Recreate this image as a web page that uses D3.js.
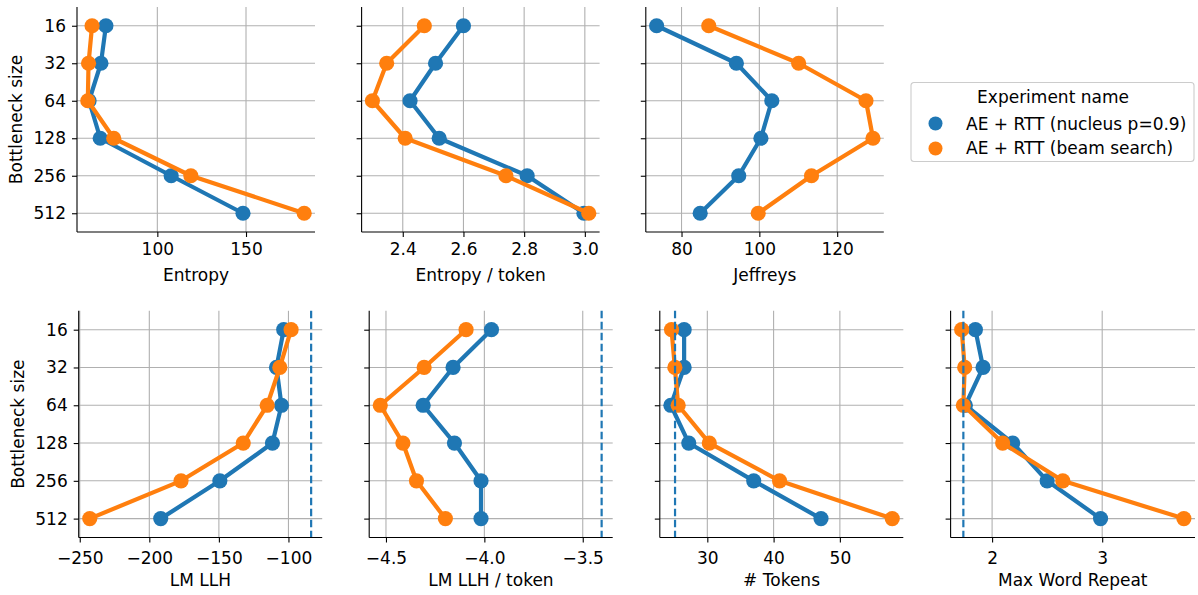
<!DOCTYPE html>
<html><head><meta charset="utf-8">
<script src="https://cdn.jsdelivr.net/npm/d3@7"></script>
<style>
body{margin:0;background:#fff;}
text{font-family:"DejaVu Sans",sans-serif;fill:#000;}
</style></head>
<body><svg id="c" width="1198" height="595"></svg>
<script>
const categories = ["16","32","64","128","256","512"];
const seriesNames = ["AE + RTT (nucleus p=0.9)","AE + RTT (beam search)"];
const colors = ["#1f77b4","#ff7f0e"];

const entropyNucleus = [71.0, 68.2, 61.5, 67.8, 107.8, 148.3];
const entropyBeam    = [63.2, 61.2, 60.8, 75.4, 118.9, 182.8];
const entTokNucleus  = [2.600, 2.508, 2.424, 2.520, 2.810, 2.997];
const entTokBeam     = [2.471, 2.347, 2.300, 2.408, 2.740, 3.013];
const jeffNucleus    = [73.6, 94.1, 103.2, 100.4, 94.7, 84.8];
const jeffBeam       = [87.0, 110.1, 127.4, 129.2, 113.4, 99.7];
const llhNucleus     = [-103.4, -108.6, -105.0, -111.5, -149.3, -191.8];
const llhBeam        = [-98.1, -106.2, -115.3, -132.5, -177.2, -242.8];
const llhTokNucleus  = [-3.964, -4.159, -4.311, -4.152, -4.017, -4.017];
const llhTokBeam     = [-4.093, -4.306, -4.529, -4.414, -4.345, -4.198];
const tokNucleus     = [26.5, 26.5, 24.5, 27.2, 37.0, 47.15];
const tokBeam        = [24.6, 25.1, 25.6, 30.3, 40.9, 57.9];
const repNucleus     = [1.848, 1.918, 1.757, 2.187, 2.50, 2.985];
const repBeam        = [1.724, 1.751, 1.739, 2.096, 2.642, 3.742];

const refLLH = -83.7, refLLHTok = -3.404, refTok = 25.13, refRep = 1.739;

const ticksEntropy = [100,150];
const ticksEntTok = [2.4,2.6,2.8,3.0];
const ticksJeff = [80,100,120];
const ticksLLH = [-250,-200,-150,-100];
const ticksLLHTok = [-4.5,-4.0,-3.5];
const ticksTok = [30,40,50];
const ticksRep = [2,3];

const panels = [
  {label:"Entropy", s:[entropyNucleus,entropyBeam], ticks:ticksEntropy, fmt:d=>String(d), ref:null, x:77, y:7, w:238, h:225, ylab:true, xpad:6},
  {label:"Entropy / token", s:[entTokNucleus,entTokBeam], ticks:ticksEntTok, fmt:d=>d.toFixed(1), ref:null, x:361.6, y:7, w:238, h:225, ylab:false, xpad:6},
  {label:"Jeffreys", s:[jeffNucleus,jeffBeam], ticks:ticksJeff, fmt:d=>String(d), ref:null, x:645.8, y:7, w:238, h:225, ylab:false, xpad:6},
  {label:"LM LLH", s:[llhNucleus,llhBeam], ticks:ticksLLH, fmt:d=>String(d), ref:refLLH, x:78.7, y:310.8, w:243.5, h:226.7, ylab:true, xpad:9},
  {label:"LM LLH / token", s:[llhTokNucleus,llhTokBeam], ticks:ticksLLHTok, fmt:d=>d.toFixed(1), ref:refLLHTok, x:369.2, y:310.8, w:243.5, h:226.7, ylab:false, xpad:9},
  {label:"# Tokens", s:[tokNucleus,tokBeam], ticks:ticksTok, fmt:d=>String(d), ref:refTok, x:659.8, y:310.8, w:243.5, h:226.7, ylab:false, xpad:9},
  {label:"Max Word Repeat", s:[repNucleus,repBeam], ticks:ticksRep, fmt:d=>String(d), ref:refRep, x:950.6, y:310.8, w:244.4, h:226.7, ylab:false, xpad:9},
];

const svg = d3.select("#c");
svg.append("rect").attr("width",1198).attr("height",595).attr("fill","#fff");
const minus = s => s.replace(/-/g,"\u2212");
const FS = 17;

panels.forEach(p=>{
  const g = svg.append("g").attr("transform",`translate(${p.x},${p.y})`);
  const vals = p.s.flat().concat(p.ref!==null?[p.ref]:[]);
  let lo = d3.min(vals), hi = d3.max(vals), pad = (hi-lo)*0.05;
  const x = d3.scaleLinear().domain([lo-pad, hi+pad]).range([0,p.w]);
  const y = d3.scalePoint().domain(categories).range([0,p.h]).padding(0.5);

  // grid
  g.append("g").selectAll("line").data(p.ticks).join("line")
    .attr("x1",d=>x(d)).attr("x2",d=>x(d)).attr("y1",0).attr("y2",p.h)
    .attr("stroke","#b0b0b0").attr("stroke-width",1.1);
  g.append("g").selectAll("line").data(categories).join("line")
    .attr("x1",0).attr("x2",p.w).attr("y1",d=>y(d)).attr("y2",d=>y(d))
    .attr("stroke","#b0b0b0").attr("stroke-width",1.1);

  // series
  p.s.forEach((arr,i)=>{
    const pts = categories.map((c,j)=>[x(arr[j]), y(c)]);
    g.append("path").attr("d", d3.line()(pts)).attr("fill","none")
      .attr("stroke",colors[i]).attr("stroke-width",4.2).attr("stroke-linejoin","round");
    g.append("g").selectAll("circle").data(pts).join("circle")
      .attr("cx",d=>d[0]).attr("cy",d=>d[1]).attr("r",7.6).attr("fill",colors[i]);
  });

  if(p.ref!==null){
    g.append("line").attr("x1",x(p.ref)).attr("x2",x(p.ref)).attr("y1",0).attr("y2",p.h)
      .attr("stroke",colors[0]).attr("stroke-width",2.2).attr("stroke-dasharray","7.5,3.5");
  }

  // axes
  const xa = d3.axisBottom(x).tickValues(p.ticks).tickSize(5).tickPadding(p.xpad).tickFormat(d=>minus(p.fmt(d)));
  const xg = g.append("g").attr("transform",`translate(0,${p.h})`).call(xa);
  const ya = d3.axisLeft(y).tickSize(5).tickPadding(6).tickFormat(d=>p.ylab?d:"");
  const yg = g.append("g").call(ya);
  [xg,yg].forEach(a=>{
    a.select(".domain").attr("stroke","#000").attr("stroke-width",1.1);
    a.selectAll(".tick line").attr("stroke","#000").attr("stroke-width",1.1);
    a.selectAll(".tick text").attr("font-size",FS).attr("font-family","DejaVu Sans").attr("fill","#000");
  });
  xg.select(".domain").attr("d",`M0,0H${p.w}`);
  yg.select(".domain").attr("d",`M0,0V${p.h}`);

  g.append("text").attr("x",p.w/2).attr("y",p.h+49).attr("text-anchor","middle")
    .attr("font-size",FS).text(p.label);
  if(p.ylab){
    g.append("text").attr("transform",`translate(${-55},${p.h/2}) rotate(-90)`)
      .attr("text-anchor","middle").attr("font-size",FS).text("Bottleneck size");
  }
});

// legend
const L = svg.append("g").attr("transform","translate(911,82.5)");
L.append("rect").attr("width",283).attr("height",79).attr("rx",3)
  .attr("fill","#fff").attr("fill-opacity",0.8).attr("stroke","#cccccc").attr("stroke-width",1.1);
L.append("text").attr("x",142).attr("y",20.5).attr("text-anchor","middle").attr("font-size",FS).text("Experiment name");
seriesNames.forEach((n,i)=>{
  L.append("circle").attr("cx",24.5).attr("cy",41+i*25).attr("r",7).attr("fill",colors[i]);
  L.append("text").attr("x",55).attr("y",47+i*24.5).attr("font-size",FS).text(n);
});
</script></body></html>
